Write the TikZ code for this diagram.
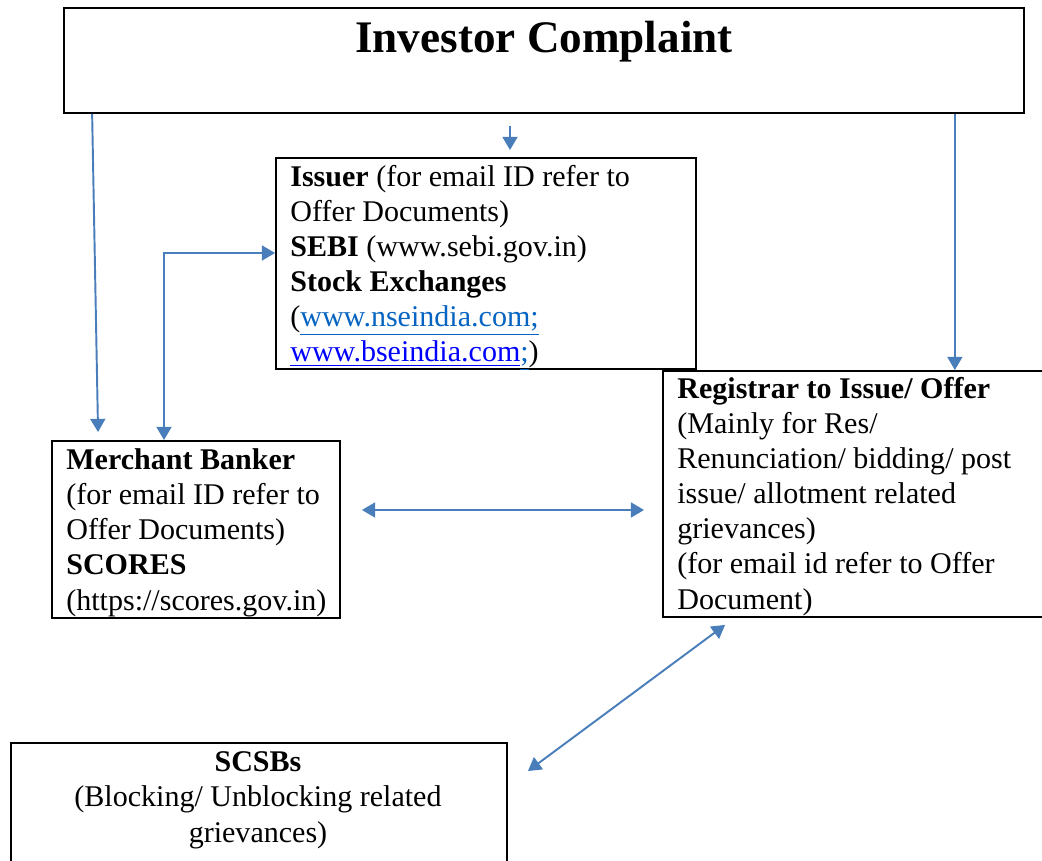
\documentclass[tikz,border=0pt]{standalone}
\usepackage{fontspec}
\setmainfont{Liberation Serif}
\usetikzlibrary{arrows.meta,calc}
\definecolor{arblue}{RGB}{74,126,187}
\definecolor{lnkA}{RGB}{5,99,193}
\definecolor{lnkB}{RGB}{0,0,255}
\newcommand{\lnk}[2]{\textcolor{#1}{\underline{#2}}}
\tikzset{
  bx/.style={draw,line width=1.1pt},
  tx/.style={anchor=base west,inner sep=0pt,align=left,font=\fontsize{17.1}{20}\selectfont},
  ar/.style={draw=arblue,line width=1.1pt,-{Triangle[length=7.5pt,width=8.5pt]}},
  dar/.style={ar,{Triangle[length=7.5pt,width=8.5pt]}-{Triangle[length=7.5pt,width=8.5pt]}}
}
\begin{document}
\begin{tikzpicture}[x=0.02cm,y=-0.02cm]
    \useasboundingbox (0,0) rectangle (1042,861);
    % boxes
    \node[bx,minimum width=19.2cm,minimum height=2.1cm] (inv) at (544,60.5) {};
    \node[bx,minimum width=8.4cm,minimum height=4.22cm] (iss) at (486,263.5) {};
    \node[bx,minimum width=7.66cm,minimum height=4.92cm] (reg) at (854.5,494) {};
    \node[bx,minimum width=5.76cm,minimum height=3.54cm] (mb) at (196,529.5) {};
    \node[bx,minimum width=9.92cm,minimum height=2.74cm] (scsb) at (259,811.5) {};
    % texts (base = last line)
    \node[tx,anchor=base,font=\fontsize{25.7}{30}\selectfont\bfseries] (invt) at (544,53) {Investor Complaint};
    \node[tx] (isst) at (290,362) {\textbf{Issuer} (for email ID refer to\\Offer Documents)\\\textbf{SEBI} (www.sebi.gov.in)\\\textbf{Stock Exchanges}\\(\lnk{lnkA}{www.nseindia.com;}\\\lnk{lnkB}{www.bseindia.com}\lnk{lnkA}{;})};
    \node[tx] (regt) at (677,609) {\textbf{Registrar to Issue/ Offer}\\(Mainly for Res/\\Renunciation/ bidding/ post\\issue/ allotment related\\grievances)\\(for email id refer to Offer\\Document)};
    \node[tx] (mbt) at (66,610) {\textbf{Merchant Banker}\\(for email ID refer to\\Offer Documents)\\\textbf{SCORES}\\(https://scores.gov.in)};
    \node[tx,anchor=base,align=center] (scsbt) at (258,842) {\textbf{SCSBs}\\(Blocking/ Unblocking related\\grievances)};
    % connectors
    \draw[ar] ([shift={(29,0)}]inv.south west) -- ([shift={(47,-8)}]mb.north west);
    \draw[ar] ([shift={(-34,12)}]inv.south) -- ([shift={(24,-7)}]iss.north);
    \draw[ar] ([shift={(-70,0)}]inv.south east) coordinate (r0) -- (r0 |- reg.north);
    \draw[dar] ([shift={(-32,0)}]mb.north) |- ([shift={(0,-10.5)}]iss.west);
    \draw[dar] ([shift={(21,-19.5)}]mb.east) coordinate (h0) -- ($(h0 -| reg.west)+(-18,0)$);
    \draw[dar] ([shift={(63,7)}]reg.south west) -- ([shift={(20,29)}]scsb.north east);
\end{tikzpicture}
\end{document}
